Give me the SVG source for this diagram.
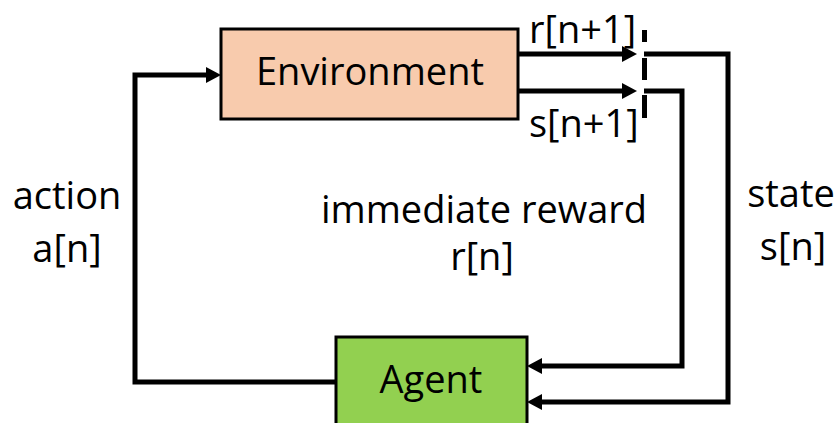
<svg xmlns="http://www.w3.org/2000/svg" width="838" height="423" viewBox="0 0 838 423">
  <style>
    .lbl { font-family: "Open Sans", "Liberation Sans", sans-serif; font-size: 38px; fill: #000; }
    .mid { text-anchor: middle; }
    .box { stroke: #000; stroke-width: 3; }
    .wire { fill: none; stroke: #000; stroke-width: 5; stroke-linejoin: miter; }
  </style>
  <defs>
    <marker id="head" markerUnits="userSpaceOnUse" markerWidth="16" markerHeight="18" refX="0" refY="8" orient="auto">
      <path d="M0,0 L15,8 L0,16 Z" fill="#000"/>
    </marker>
  </defs>
  <rect width="838" height="423" fill="#fff"/>

  <!-- nodes -->
  <g id="environment">
    <rect class="box" x="221" y="29" width="297" height="90" fill="#F8CBAD"/>
    <text class="lbl mid" x="370" y="85">Environment</text>
  </g>
  <g id="agent">
    <rect class="box" x="336" y="337" width="191" height="100" fill="#92D050"/>
    <text class="lbl mid" x="431" y="393">Agent</text>
  </g>

  <!-- switch sampling the next reward/state -->
  <g id="switch" fill="#000">
    <rect x="642" y="30" width="5" height="12"/>
    <rect x="642" y="58" width="5" height="22"/>
    <rect x="642" y="95" width="5" height="23"/>
  </g>

  <!-- connectors -->
  <g id="connectors">
    <path class="wire" d="M336,382 H135 V75 H206" marker-end="url(#head)"/>
    <path class="wire" d="M518,54 H622" marker-end="url(#head)"/>
    <path class="wire" d="M518,91 H622" marker-end="url(#head)"/>
    <path class="wire" d="M644,54 H728 V402 H542" marker-end="url(#head)"/>
    <path class="wire" d="M644,91 H682 V366 H542" marker-end="url(#head)"/>
  </g>

  <!-- labels -->
  <g id="labels">
    <text class="lbl" x="529" y="43">r[n+1]</text>
    <text class="lbl" x="529" y="137">s[n+1]</text>
    <text class="lbl mid" x="67" y="209">action</text>
    <text class="lbl mid" x="67" y="262">a[n]</text>
    <text class="lbl mid" x="484" y="223">immediate reward</text>
    <text class="lbl mid" x="482" y="270">r[n]</text>
    <text class="lbl mid" x="791" y="207">state</text>
    <text class="lbl mid" x="793" y="260">s[n]</text>
  </g>
</svg>
